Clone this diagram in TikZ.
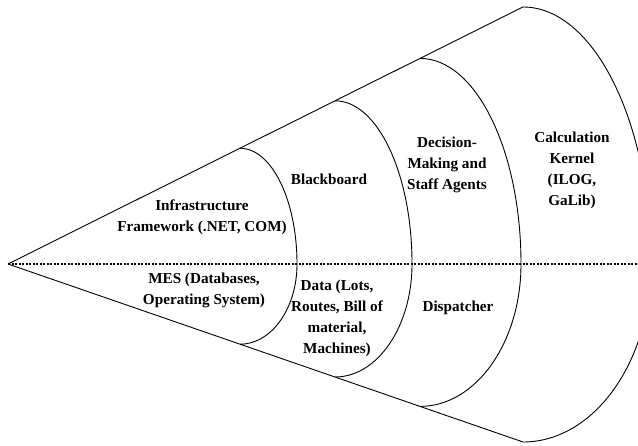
\documentclass[tikz,border=0pt]{standalone}
\usepackage{fontspec}
\setmainfont{Liberation Serif}
\usetikzlibrary{calc}
\begin{document}
\begin{tikzpicture}[x=1pt,y=-1pt,
  edge/.style={line width=0.9pt,black},
  axisline/.style={line width=2.4pt,black,dash pattern=on 2.2pt off 1.3pt},
  label/.style={font=\fontsize{15.2}{21}\selectfont\bfseries,align=center,inner sep=0pt}]
  \useasboundingbox (0,0) rectangle (638,446);
  \clip (0,0) rectangle (638,446);

  % apex and the two rims of the cone
  \coordinate (A) at (8,264);
  \coordinate (U) at (523,7);
  \coordinate (L) at (523,442);
  \coordinate (E) at (638,264);

  % points where each shell meets the rims
  \coordinate (t1) at ($(A)!0.4505!(U)$);
  \coordinate (b1) at ($(A)!0.4505!(L)$);
  \coordinate (t2) at ($(A)!0.635!(U)$);
  \coordinate (b2) at ($(A)!0.635!(L)$);
  \coordinate (t3) at ($(A)!0.8!(U)$);
  \coordinate (b3) at ($(A)!0.8!(L)$);

  % cone sides
  \draw[edge] (A) -- (U);
  \draw[edge] (A) -- (L);

  % shells: upper and lower quarter ellipses meeting on the axis
  % (y axis points down, so -90 is the top of an ellipse)
  \draw[edge] (t1) arc[start angle=-90,end angle=0,x radius=57,y radius=115.8]
                   arc[start angle=0,end angle=90,x radius=57,y radius=80.2];
  \draw[edge] (t2) arc[start angle=-90,end angle=0,x radius=77,y radius=163.2]
                   arc[start angle=0,end angle=90,x radius=77,y radius=113];
  \draw[edge] (t3) arc[start angle=-90,end angle=0,x radius=101,y radius=205.6]
                   arc[start angle=0,end angle=90,x radius=101,y radius=142.4];
  \draw[edge] (U) arc[start angle=-90,end angle=0,x radius=128,y radius=257]
                  arc[start angle=0,end angle=90,x radius=128,y radius=178];

  % dividing axis
  \draw[axisline] (A) -- (E);

  % layer labels
  \node[label] (infra) at (202,217) {Infrastructure\\Framework (.NET, COM)};
  \node[label] (mes) at (204,290) {MES (Databases,\\Operating System)};
  \node[label] (board) at (329,179) {Blackboard};
  \node[label] (data) at (337,318.5) {Data (Lots,\\Routes, Bill of\\material,\\Machines)};
  \node[label] (agents) at (447,165) {Decision-\\Making and\\Staff Agents};
  \node[label] (disp) at (458,308) {Dispatcher};
  \node[label] (kernel) at (572,170.5) {Calculation\\Kernel\\(ILOG,\\GaLib)};
\end{tikzpicture}
\end{document}
